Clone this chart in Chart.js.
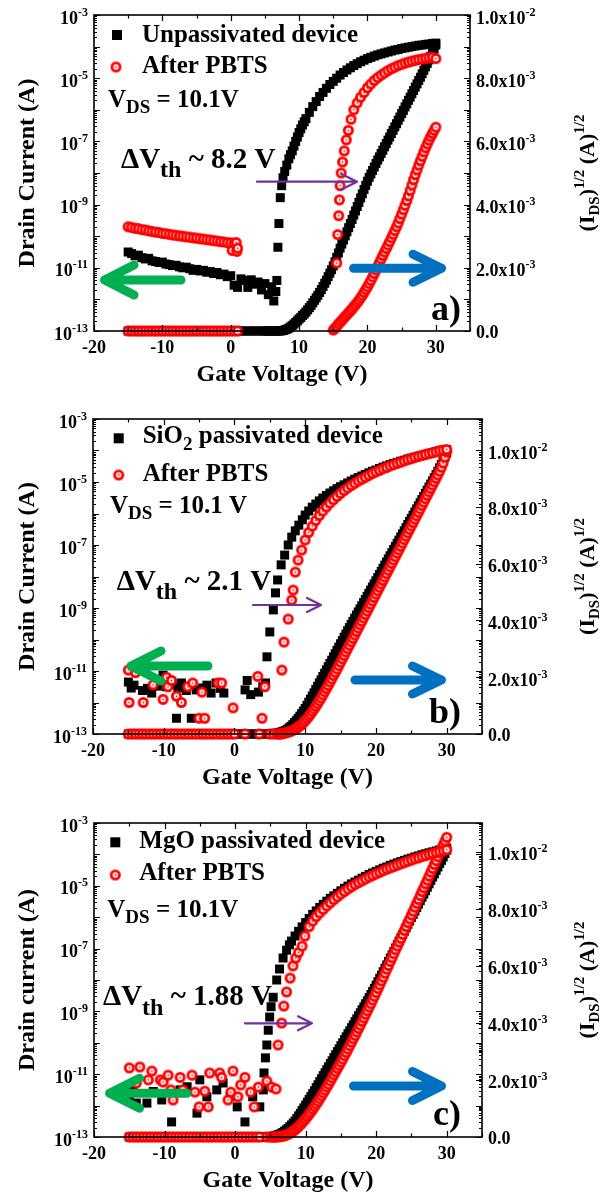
<!DOCTYPE html>
<html><head><meta charset="utf-8">
<script src="https://cdn.jsdelivr.net/npm/chart.js@4.4.1/dist/chart.umd.min.js"></script>
<style>
html,body{margin:0;padding:0;background:#fff;}
#wrap{position:relative;width:612px;height:1196px;overflow:hidden;}
canvas{position:absolute;left:0;}
</style></head><body>
<div id="wrap">
<canvas id="ca" width="612" height="400" style="top:0px"></canvas>
<canvas id="cb" width="612" height="400" style="top:400px"></canvas>
<canvas id="cc" width="612" height="396" style="top:800px"></canvas>
</div>
<script>
// ================= DATA =================
// gate-voltage grid of the sqrt(I_DS) series (V): 0.5 V steps up to 4.5 V, 0.25 V steps from 5 V
const gateV = [
-15,-14.5,-14,-13.5,-13,-12.5,-12,-11.5,-11,-10.5,
-10,-9.5,-9,-8.5,-8,-7.5,-7,-6.5,-6,-5.5,
-5,-4.5,-4,-3.5,-3,-2.5,-2,-1.5,-1,-0.5,
0,0.5,1,1.5,2,2.5,3,3.5,4,4.5,
5,5.25,5.5,5.75, 6,6.25,6.5,6.75, 7,7.25,7.5,7.75, 8,8.25,8.5,8.75, 9,9.25,9.5,9.75,
10,10.25,10.5,10.75, 11,11.25,11.5,11.75, 12,12.25,12.5,12.75, 13,13.25,13.5,13.75, 14,14.25,14.5,14.75,
15,15.25,15.5,15.75, 16,16.25,16.5,16.75, 17,17.25,17.5,17.75, 18,18.25,18.5,18.75, 19,19.25,19.5,19.75,
20,20.25,20.5,20.75, 21,21.25,21.5,21.75, 22,22.25,22.5,22.75, 23,23.25,23.5,23.75, 24,24.25,24.5,24.75,
25,25.25,25.5,25.75, 26,26.25,26.5,26.75, 27,27.25,27.5,27.75, 28,28.25,28.5,28.75, 29,29.25,29.5,29.75,
30];
const xTickValues = [-20,-10,0,10,20,30];
const logTickExponents = [-3,-5,-7,-9,-11,-13];
const sqrtTickValues = [0,2,4,6,8,10];            // in units of 1e-3 A^1/2
const sqrtTickText = ['0.0','2.0x10^-3','4.0x10^-3','6.0x10^-3','8.0x10^-3','1.0x10^-2'];

// ---- panel a : unpassivated ----  (log10 of drain current in A)
const aUnpassV = [
-15,-14.5,-14,-13.5,-13,-12.5,-12,-11.5,-11,-10.5,
-10,-9.5,-9,-8.5,-8,-7.5,-7,-6.5,-6,-5.5,
-5,-4.5,-4,-3.5,-3,-2.5,-2,-1.5,-1,-0.5,
0,0.5,1,1.5,2,2.5,3,3.5,4,4.5,
5,5.5,6,6.3,6.6,6.75,6.9,7.05,7.25,7.45,
7.65,7.9,8.2,8.5,8.75,9,9.25,9.5,9.75,10,
10.25,10.5,10.75,11,11.5,12,12.5,13,13.5,14,
14.5,15,15.5,16,16.5,17,17.5,18,18.5,19,
19.5,20,20.5,21,21.5,22,22.5,23,23.5,24,
24.5,25,25.5,26,26.5,27,27.5,28,28.5,29,
29.5,30];
const aUnpassLogI = [
-10.50,-10.55,-10.62,-10.60,-10.68,-10.72,-10.70,-10.78,-10.80,-10.83,
-10.82,-10.88,-10.90,-10.93,-10.92,-10.97,-11.00,-10.98,-11.03,-11.08,
-11.05,-11.10,-11.08,-11.14,-11.12,-11.18,-11.15,-11.22,-11.20,-11.28,
-11.25,-11.55,-11.62,-11.35,-11.40,-11.62,-11.38,-11.52,-11.45,-11.70,
-11.50,-11.85,-11.60,-12.05,-11.75,-11.40,-10.35,-9.60,-8.78,-8.40,
-8.15,-7.95,-7.75,-7.55,-7.42,-7.30,-7.15,-7.00,-6.86,-6.72,
-6.60,-6.48,-6.38,-6.28,-6.08,-5.90,-5.74,-5.58,-5.45,-5.32,
-5.20,-5.10,-5.00,-4.90,-4.82,-4.74,-4.67,-4.60,-4.54,-4.48,
-4.43,-4.38,-4.34,-4.30,-4.26,-4.23,-4.20,-4.17,-4.14,-4.11,
-4.09,-4.06,-4.04,-4.02,-4.00,-3.98,-3.96,-3.95,-3.93,-3.92,
-3.90,-3.89];
const aPbtsV = [
-15,-14.5,-14,-13.5,-13,-12.5,-12,-11.5,-11,-10.5,
-10,-9.5,-9,-8.5,-8,-7.5,-7,-6.5,-6,-5.5,
-5,-4.5,-4,-3.5,-3,-2.5,-2,-1.5,-1,-0.5,
0,0.2,0.5,0.8,0.9,1,15.5,15.65,15.8,15.9,
16,16.15,16.35,16.6,16.9,17.2,17.6,18,18.5,19,
19.5,20,20.5,21,21.5,22,22.5,23,23.5,24,
24.5,25,25.5,26,26.5,27,27.5,28,28.5,29,
29.5,30];
const aPbtsLogI = [
-9.70,-9.72,-9.75,-9.76,-9.79,-9.80,-9.83,-9.85,-9.87,-9.88,
-9.91,-9.92,-9.94,-9.96,-9.97,-9.99,-10.00,-10.02,-10.03,-10.05,
-10.06,-10.08,-10.09,-10.11,-10.12,-10.14,-10.15,-10.17,-10.18,-10.20,
-10.21,-10.45,-10.22,-10.20,-10.48,-10.38,-10.85,-9.95,-9.35,-8.85,
-8.40,-8.00,-7.65,-7.30,-6.95,-6.65,-6.30,-6.00,-5.78,-5.60,
-5.45,-5.30,-5.18,-5.07,-4.98,-4.90,-4.83,-4.76,-4.70,-4.65,
-4.60,-4.56,-4.52,-4.49,-4.46,-4.43,-4.41,-4.39,-4.37,-4.36,
-4.34,-4.38];
// sqrt(I_DS) in 1e-3 A^1/2 on the gateV grid (null = no point)
const aUnpassSqrt = [
0,0,0,0,0,0,0,0,0,0, 0,0,0,0,0,0,0,0,0,0,
0,0,0,0,0,0,0,0,0,0, 0,0,0,0,0,0,0,0,0,0,
0,0,0,0, 0,0,0,0, 0,0,0.01,0.02, 0.04,0.06,0.09,0.13, 0.17,0.22,0.27,0.32,
0.38,0.43,0.49,0.54, 0.6,0.67,0.74,0.81, 0.89,0.97,1.05,1.13, 1.22,1.31,1.41,1.51, 1.61,1.72,1.83,1.94,
2.06,2.19,2.33,2.47, 2.62,2.75,2.88,3.01, 3.14,3.27,3.4,3.53, 3.67,3.8,3.94,4.07, 4.21,4.34,4.48,4.61,
4.74,4.86,4.97,5.08, 5.19,5.3,5.41,5.51, 5.62,5.72,5.83,5.93, 6.04,6.14,6.25,6.35, 6.46,6.56,6.67,6.77,
6.88,6.98,7.09,7.19, 7.3,7.4,7.51,7.61, 7.72,7.82,7.93,8.03, 8.14,8.25,8.36,8.47, 8.58,8.69,8.8,8.92,
9.05];
const aPbtsSqrt = [
0,0,0,0,0,0,0,0,0,0, 0,0,0,0,0,0,0,0,0,0,
0,0,0,0,0,0,0,0,0,0, 0,0,0,null,null,null,null,null,null,null,
null,null,null,null, null,null,null,null, null,null,null,null, null,null,null,null, null,null,null,null,
null,null,null,null, null,null,null,null, null,null,null,null, null,null,null,null, null,null,null,null,
0.03,0.09,0.15,0.22, 0.28,0.34,0.4,0.46, 0.52,0.58,0.64,0.7, 0.77,0.83,0.9,0.97, 1.05,1.13,1.22,1.31,
1.4,1.5,1.6,1.71, 1.82,1.93,2.05,2.16, 2.28,2.39,2.5,2.61, 2.72,2.83,2.95,3.06, 3.18,3.3,3.42,3.56,
3.7,3.84,3.98,4.13, 4.28,4.45,4.62,4.79, 4.95,5.1,5.25,5.39, 5.53,5.67,5.8,5.92, 6.04,6.15,6.25,6.35,
6.45];

// ---- panel b : SiO2 passivated ----
const bSiO2V = [
-15,-14.6,-14.2,-13,-12.3,-11.7,-10.9,-10.1,-9.6,-8.8,
-8.2,-8,-7.5,-6.8,-6.1,-5.4,-4.5,-3.9,-3.3,-2.6,
-2,-1.5,1.5,1.8,2.3,3.4,4,4.4,4.6,5,
5.5,5.8,6.1,6.6,7.1,7.6,8.1,8.6,9.1,9.6,
10,10.5,11,11.5,12,12.5,13,13.5,14,14.5,
15,15.5,16,16.5,17,17.5,18,18.5,19,19.5,
20,20.5,21,21.5,22,22.5,23,23.5,24,24.5,
25,25.5,26,26.5,27,27.5,28,28.5,29,29.5,
30];
const bSiO2LogI = [
-11.35,-11.54,-11.45,-11.62,-11.55,-11.70,-11.48,-11.13,-11.50,-11.42,
-12.50,-11.54,-11.38,-11.62,-12.50,-11.60,-11.54,-11.45,-11.70,-11.38,
-11.55,-11.70,-11.60,-11.30,-11.75,-11.67,-11.50,-11.38,-10.55,-9.76,
-9.06,-8.52,-8.11,-7.63,-7.32,-7.00,-6.75,-6.55,-6.37,-6.20,
-6.05,-5.92,-5.80,-5.70,-5.60,-5.51,-5.43,-5.35,-5.28,-5.21,
-5.15,-5.09,-5.03,-4.97,-4.91,-4.86,-4.81,-4.76,-4.71,-4.66,
-4.62,-4.57,-4.53,-4.49,-4.45,-4.41,-4.38,-4.34,-4.31,-4.27,
-4.24,-4.21,-4.18,-4.15,-4.12,-4.09,-4.07,-4.04,-4.01,-3.99,
-3.97];
const bPbtsV = [
-15,-14.9,-14,-12.9,-11.5,-10.1,-9.6,-9.4,-8.9,-8.2,
-7.5,-6.6,-5.9,-5,-4.6,-4.2,-2.3,-1.8,-0.2,3.3,
3.9,4.3,6.7,7,7.6,8.1,8.3,8.6,9,9.5,
10,10.5,11,11.5,12,12.5,13,13.5,14,14.5,
15,15.5,16,16.5,17,17.5,18,18.5,19,19.5,
20,20.5,21,21.5,22,22.5,23,23.5,24,24.5,
25,25.5,26,26.5,27,27.5,28,28.5,29,29.5,
30];
const bPbtsLogI = [
-10.97,-12.00,-11.05,-12.00,-11.44,-11.90,-11.20,-11.50,-11.30,-11.80,
-12.00,-11.50,-11.38,-12.50,-11.67,-12.50,-11.38,-11.38,-12.17,-11.17,
-12.50,-11.50,-10.97,-10.08,-9.35,-8.75,-8.43,-7.86,-7.48,-7.16,
-6.84,-6.60,-6.40,-6.22,-6.06,-5.92,-5.79,-5.67,-5.56,-5.46,
-5.36,-5.27,-5.19,-5.11,-5.04,-4.97,-4.91,-4.85,-4.79,-4.73,
-4.68,-4.63,-4.58,-4.54,-4.49,-4.45,-4.41,-4.37,-4.33,-4.29,
-4.26,-4.22,-4.19,-4.16,-4.13,-4.10,-4.07,-4.04,-4.01,-3.99,
-3.97];
const bSiO2Sqrt = [
0,0,0,0,0,0,0,0,0,0, 0,0,0,0,0,0,0,0,0,0,
0,0,0,0,0,0,0,0,0,0, 0,0,0,0,0,0,0,0,0,0,
0,0,0.01,0.02, 0.03,0.04,0.06,0.08, 0.1,0.13,0.17,0.22, 0.27,0.33,0.4,0.47, 0.55,0.63,0.72,0.81,
0.9,1.01,1.12,1.23, 1.34,1.45,1.57,1.68, 1.8,1.91,2.03,2.14, 2.26,2.37,2.49,2.6, 2.72,2.83,2.95,3.06,
3.18,3.29,3.41,3.52, 3.64,3.75,3.86,3.97, 4.08,4.19,4.3,4.41, 4.52,4.63,4.74,4.85, 4.96,5.07,5.18,5.29,
5.4,5.51,5.62,5.73, 5.84,5.95,6.06,6.17, 6.28,6.39,6.5,6.61, 6.72,6.83,6.94,7.05, 7.16,7.27,7.38,7.49,
7.6,7.71,7.82,7.93, 8.04,8.15,8.26,8.37, 8.48,8.59,8.7,8.81, 8.92,9.03,9.14,9.26, 9.38,9.5,9.62,9.76,
9.9];
const bPbtsSqrt = [
0,0,0,0,0,0,0,0,0,0, 0,0,0,0,0,0,0,0,0,0,
0,0,0,0,0,0,0,0,0,0, 0,null,null,0,null,null,null,0,null,null,
0,null,0,null, 0,0,0,0.01, 0.03,0.04,0.06,0.08, 0.1,0.13,0.16,0.2, 0.24,0.29,0.34,0.4,
0.47,0.54,0.62,0.7, 0.79,0.88,0.97,1.07, 1.17,1.27,1.38,1.49, 1.6,1.71,1.83,1.94, 2.06,2.17,2.29,2.41,
2.53,2.65,2.77,2.89, 3.01,3.13,3.25,3.37, 3.49,3.61,3.73,3.85, 3.97,4.09,4.21,4.33, 4.45,4.57,4.69,4.81,
4.93,5.05,5.17,5.29, 5.41,5.53,5.65,5.77, 5.89,6.01,6.13,6.25, 6.37,6.49,6.61,6.73, 6.85,6.97,7.09,7.21,
7.33,7.45,7.57,7.69, 7.81,7.93,8.05,8.17, 8.29,8.41,8.53,8.65, 8.77,8.89,9.01,9.13, 9.26,9.4,9.55,9.75,
9.95];

// ---- panel c : MgO passivated ----
const cMgOV = [
-15,-14.5,-14,-12.5,-11.6,-10.4,-9,-7.8,-6.8,-5.4,
-5,-4,-2.6,-1.7,-0.7,0.3,1.4,2.5,3.5,4,
4.1,4.3,4.5,4.7,4.9,5.1,5.4,5.9,6.3,6.8,
7.3,7.7,8,8.5,9,9.5,10,10.5,11,11.5,
12,12.5,13,13.5,14,14.5,15,15.5,16,16.5,
17,17.5,18,18.5,19,19.5,20,20.5,21,21.5,
22,22.5,23,23.5,24,24.5,25,25.5,26,26.5,
27,27.5,28,28.5,29,29.5,30];
const cMgOLogI = [
-11.82,-11.44,-11.92,-11.92,-11.55,-11.82,-12.52,-11.50,-11.40,-12.24,
-11.18,-11.72,-11.50,-11.28,-11.72,-12.04,-12.52,-11.72,-12.04,-11.50,
-10.96,-10.48,-10.07,-9.60,-9.18,-8.85,-8.55,-8.00,-7.65,-7.30,
-7.05,-6.88,-6.76,-6.60,-6.45,-6.31,-6.17,-6.04,-5.91,-5.80,
-5.69,-5.59,-5.49,-5.40,-5.32,-5.24,-5.16,-5.08,-5.01,-4.94,
-4.88,-4.82,-4.76,-4.70,-4.64,-4.59,-4.54,-4.49,-4.44,-4.40,
-4.35,-4.31,-4.27,-4.23,-4.19,-4.15,-4.12,-4.08,-4.05,-4.01,
-3.98,-3.95,-3.92,-3.89,-3.86,-3.83,-3.80];
const cPbtsV = [
-15,-14,-13.5,-12.3,-11.8,-10.6,-10.2,-9.5,-9.1,-8.8,
-7.8,-7.4,-6.1,-5.7,-5.1,-4.3,-3.8,-3.6,-2.2,-1.9,
-1,-0.6,-0.3,0.4,0.8,1.4,2.2,2.7,3.3,4.5,
5.2,5.8,6.1,6.6,6.9,7.3,7.8,8.2,8.6,9,
9.5,9.9,10.5,11,11.5,12,12.5,13,13.5,14,
14.5,15,15.5,16,16.5,17,17.5,18,18.5,19,
19.5,20,20.5,21,21.5,22,22.5,23,23.5,24,
24.5,25,25.5,26,26.5,27,27.5,28,28.5,29,
29.5,30];
const cPbtsLogI = [
-10.80,-11.28,-10.77,-11.18,-10.90,-11.18,-11.25,-11.03,-11.50,-11.82,
-11.10,-11.50,-11.03,-11.57,-12.04,-11.54,-12.04,-10.96,-10.96,-11.10,
-11.82,-11.57,-10.90,-11.72,-11.34,-11.10,-11.57,-12.04,-11.41,-11.22,
-11.41,-11.47,-10.07,-9.37,-8.83,-8.38,-7.94,-7.55,-7.30,-7.12,
-6.92,-6.60,-6.30,-6.12,-5.98,-5.86,-5.75,-5.64,-5.54,-5.44,
-5.35,-5.26,-5.18,-5.10,-5.03,-4.96,-4.90,-4.84,-4.78,-4.72,
-4.67,-4.62,-4.57,-4.52,-4.47,-4.43,-4.39,-4.34,-4.30,-4.26,
-4.22,-4.18,-4.14,-4.11,-4.07,-4.04,-4.00,-3.97,-3.94,-3.91,
-3.88,-3.85];
const cMgOSqrt = [
0,0,0,0,0,0,0,0,0,0, 0,0,0,0,0,0,0,0,0,0,
0,0,0,0,0,0,0,0,0,0, 0,0,0,0,0,0,0,0,0,0,
0.01,0.02,0.03,0.05, 0.07,0.09,0.12,0.16, 0.2,0.25,0.3,0.36, 0.42,0.49,0.56,0.65, 0.74,0.83,0.93,1.02,
1.12,1.22,1.32,1.42, 1.52,1.62,1.73,1.83, 1.94,2.04,2.15,2.25, 2.36,2.46,2.57,2.67, 2.78,2.88,2.99,3.09,
3.2,3.3,3.41,3.51, 3.62,3.72,3.83,3.93, 4.04,4.14,4.25,4.35, 4.46,4.56,4.67,4.77, 4.88,4.99,5.1,5.21,
5.32,5.44,5.56,5.67, 5.79,5.91,6.03,6.15, 6.27,6.38,6.5,6.62, 6.74,6.86,6.98,7.09, 7.21,7.33,7.45,7.57,
7.69,7.8,7.92,8.04, 8.16,8.28,8.4,8.51, 8.63,8.75,8.87,8.99, 9.11,9.22,9.34,9.46, 9.58,9.69,9.81,9.93,
10.05];
const cPbtsSqrt = [
0,0,0,0,0,0,0,0,0,0, 0,0,0,0,0,0,0,0,0,0,
0,0,0,0,0,0,0,0,0,0, 0,0,0,0,0,0,0,0,null,0,
0,0,0,0, 0.01,0.01,0.02,0.03, 0.05,0.07,0.1,0.13, 0.17,0.21,0.26,0.31, 0.37,0.43,0.5,0.57,
0.64,0.72,0.8,0.88, 0.97,1.06,1.15,1.24, 1.34,1.44,1.54,1.64, 1.75,1.85,1.96,2.07, 2.18,2.29,2.4,2.51,
2.62,2.73,2.85,2.96, 3.08,3.2,3.32,3.44, 3.56,3.68,3.8,3.92, 4.05,4.17,4.3,4.42, 4.55,4.67,4.8,4.93,
5.06,5.2,5.33,5.47, 5.6,5.74,5.88,6.01, 6.15,6.28,6.42,6.56, 6.69,6.83,6.96,7.1, 7.24,7.37,7.51,7.64,
7.78,7.91,8.05,8.19, 8.32,8.46,8.6,8.73, 8.87,9.0,9.14,9.28, 9.41,9.55,9.68,9.82, 9.96,10.1,10.23,10.37,
10.5];

// ================= RENDERING =================
const FAM = '"Liberation Serif","Times New Roman",serif';
const GREEN = '#00b050', BLUE = '#0070c0', PURPLE = '#7030a0';
function fnt(s){ return 'bold ' + s + 'px ' + FAM; }

function ringImage(){
  const c = document.createElement('canvas'); c.width = 13; c.height = 13;
  const g = c.getContext('2d');
  g.fillStyle = '#ff0000'; g.beginPath(); g.arc(6.5,6.5,5.5,0,2*Math.PI); g.fill();
  g.fillStyle = '#ffffff'; g.beginPath(); g.arc(6.5,6.5,2.7,0,2*Math.PI); g.fill();
  g.fillStyle = '#ff0000'; g.beginPath(); g.arc(6.5,6.5,0.9,0,2*Math.PI); g.fill();
  return c;
}
const RING = ringImage();

function rich(ctx, x, y, segs, align){
  let w = 0;
  for (const s of segs){ ctx.font = fnt(s[1]); w += ctx.measureText(s[0]).width; }
  let cx = align === 'right' ? x - w : (align === 'center' ? x - w/2 : x);
  ctx.textAlign = 'left'; ctx.textBaseline = 'alphabetic';
  for (const s of segs){ ctx.font = fnt(s[1]); ctx.fillText(s[0], cx, y + (s[2]||0)); cx += ctx.measureText(s[0]).width; }
}
function arrow(ctx, x1, y1, x2, y2, color, lw, hl, hw){
  ctx.save(); ctx.strokeStyle = color; ctx.lineWidth = lw; ctx.lineCap = 'round'; ctx.lineJoin = 'round';
  const d = Math.sign(x2 - x1);
  ctx.beginPath(); ctx.moveTo(x1,y1); ctx.lineTo(x2,y2);
  ctx.moveTo(x2 - d*hl, y2 - hw); ctx.lineTo(x2, y2); ctx.lineTo(x2 - d*hl, y2 + hw);
  ctx.stroke(); ctx.restore();
}

function makeDeco(P){
  return { id: 'deco_' + P.id, afterDraw(chart){
    const ctx = chart.ctx, a = chart.chartArea;
    const sx = chart.scales.x, sl = chart.scales.yL, sr = chart.scales.yR;
    ctx.save();
    ctx.strokeStyle = '#000'; ctx.fillStyle = '#000';
    ctx.lineWidth = 1.2; ctx.beginPath();
    for (let v = -20; v <= 35; v += 5){
      const px = Math.round(sx.getPixelForValue(v)) + 0.5; const L = (v % 10 === 0) ? 6 : 3.5;
      ctx.moveTo(px, a.bottom); ctx.lineTo(px, a.bottom - L);
      ctx.moveTo(px, a.top); ctx.lineTo(px, a.top + L);
    }
    for (let d = -13; d <= -3; d++){
      for (let k = 1; k <= 9; k++){
        if (d === -3 && k > 1) break;
        const py = Math.round(sl.getPixelForValue(k * Math.pow(10, d))) + 0.5; const L = k === 1 ? 6 : 3;
        ctx.moveTo(a.left, py); ctx.lineTo(a.left + L, py);
        ctx.moveTo(a.right, py); ctx.lineTo(a.right - L, py);
      }
    }
    for (let v = 0; v <= P.rMax + 1e-9; v += 1){
      const py = Math.round(sr.getPixelForValue(v)) + 0.5; const L = (v % 2 === 0) ? 6 : 3;
      ctx.moveTo(a.right, py); ctx.lineTo(a.right - L, py);
    }
    ctx.stroke();
    ctx.lineWidth = 1.6; ctx.strokeRect(a.left, a.top, a.right - a.left, a.bottom - a.top);
    for (const e of logTickExponents){
      const py = sl.getPixelForValue(Math.pow(10, e));
      rich(ctx, a.left - 6, py + 8.5, [['10',18,0],['-' + Math.abs(e),12,-8]], 'right');
    }
    sqrtTickValues.forEach((v, i) => {
      const t = sqrtTickText[i], py = sr.getPixelForValue(v);
      if (t.indexOf('^') >= 0){ const p = t.split('^'); rich(ctx, a.right + 6, py + 8.5, [[p[0],18,0],[p[1],12,-8]], 'left'); }
      else rich(ctx, a.right + 6, py + 6.5, [[t,18,0]], 'left');
    });
    for (const v of xTickValues){ rich(ctx, sx.getPixelForValue(v), a.bottom + 22, [[String(v),18,0]], 'center'); }
    const cy = (a.top + a.bottom) / 2;
    rich(ctx, (a.left + a.right) / 2, a.bottom + 50, [['Gate Voltage (V)',24,0]], 'center');
    ctx.save(); ctx.translate(34, cy); ctx.rotate(-Math.PI/2); rich(ctx, 0, 0, [[P.leftTitle,24,0]], 'center'); ctx.restore();
    ctx.save(); ctx.translate(594, cy); ctx.rotate(-Math.PI/2);
    rich(ctx, 0, 0, [['(I',22,0],['DS',15,5],[')',22,0],['1/2',15,-10],[' (A)',22,0],['1/2',15,-10]], 'center'); ctx.restore();
    for (const L of P.legend){
      if (L.sym === 'sq'){ ctx.fillStyle = '#000'; ctx.fillRect(L.x - 5, L.y - 5, 10, 10); }
      else ctx.drawImage(RING, L.x - 6.5, L.y - 6.5);
      ctx.fillStyle = '#000'; rich(ctx, L.tx, L.ty, L.segs, 'left');
    }
    for (const T of P.texts) rich(ctx, T.x, T.y, T.segs, 'left');
    for (const A of P.arrows){
      const y = sl.getPixelForValue(Math.pow(10, A.logY));
      arrow(ctx, sx.getPixelForValue(A.x1), y, sx.getPixelForValue(A.x2), y, A.color, A.lw, A.hl, A.hw);
    }
    ctx.restore();
  }};
}

function logPts(vs, logs){ return vs.map((v,i) => ({x: v, y: Math.pow(10, logs[i])})); }
function sqrtPts(vs, vals){ const o = []; vs.forEach((v,i) => { if (vals[i] !== null && vals[i] !== undefined) o.push({x: v, y: vals[i]}); }); return o; }

const panels = [
 { id:'a', canvas:'ca', pad:{left:94,right:142,top:15,bottom:69}, rMax:10,
   blkV:aUnpassV, blkLog:aUnpassLogI, redV:aPbtsV, redLog:aPbtsLogI, blkSqrt:aUnpassSqrt, redSqrt:aPbtsSqrt,
   leftTitle:'Drain Current (A)',
   legend:[{sym:'sq',x:117,y:35,tx:142,ty:42,segs:[['Unpassivated device',25,0]]},
           {sym:'ring',x:116,y:67,tx:142,ty:73,segs:[['After PBTS',25,0]]}],
   texts:[{x:108,y:107,segs:[['V',25,0],['DS',19,6],[' = 10.1V',25,0]]},
          {x:121,y:168,segs:[['\u0394V',29,0],['th',24,9],[' ~ 8.2 V',29,0]]},
          {x:431,y:320,segs:[['a)',36,0]]}],
   arrows:[{x1:-7.27,x2:-18.46,logY:-11.386,color:GREEN,lw:9,hl:29.5,hw:15},
           {x1:17.96,x2:30.84,logY:-11.016,color:BLUE,lw:9,hl:28.5,hw:14},
           {x1:3.84,x2:18.47,logY:-8.275,color:PURPLE,lw:2.2,hl:16,hw:8}] },
 { id:'b', canvas:'cb', pad:{left:93,right:130,top:19,bottom:66}, rMax:11.1,
   blkV:bSiO2V, blkLog:bSiO2LogI, redV:bPbtsV, redLog:bPbtsLogI, blkSqrt:bSiO2Sqrt, redSqrt:bPbtsSqrt,
   leftTitle:'Drain Current (A)',
   legend:[{sym:'sq',x:118.7,y:38.3,tx:142.7,ty:43.3,segs:[['SiO',25,0],['2',19,7],[' passivated device',25,0]]},
           {sym:'ring',x:118.7,y:75,tx:142.7,ty:81,segs:[['After PBTS',25,0]]}],
   texts:[{x:110,y:113.3,segs:[['V',25,0],['DS',19,6],[' = 10.1 V',25,0]]},
          {x:116.7,y:190,segs:[['\u0394V',29,0],['th',24,9],[' ~ 2.1 V',29,0]]},
          {x:429,y:323,segs:[['b)',36,0]]}],
   arrows:[{x1:-3.74,x2:-14.63,logY:-10.84,color:GREEN,lw:9,hl:30,hw:15},
           {x1:17.04,x2:29.27,logY:-11.286,color:BLUE,lw:9,hl:29,hw:14},
           {x1:2.62,x2:12.24,logY:-8.905,color:PURPLE,lw:2.2,hl:14,hw:7}] },
 { id:'c', canvas:'cc', pad:{left:94,right:130,top:23,bottom:59}, rMax:11.0,
   blkV:cMgOV, blkLog:cMgOLogI, redV:cPbtsV, redLog:cPbtsLogI, blkSqrt:cMgOSqrt, redSqrt:cPbtsSqrt,
   leftTitle:'Drain current (A)',
   legend:[{sym:'sq',x:115.3,y:42.3,tx:139.3,ty:48.3,segs:[['MgO passivated device',25,0]]},
           {sym:'ring',x:115.3,y:75,tx:139.3,ty:80,segs:[['After PBTS',25,0]]}],
   texts:[{x:107.3,y:116.7,segs:[['V',25,0],['DS',19,6],[' = 10.1V',25,0]]},
          {x:103,y:205,segs:[['\u0394V',29,0],['th',24,10],[' ~ 1.88 V',29,0]]},
          {x:433,y:325,segs:[['c)',36,0]]}],
   arrows:[{x1:-6.82,x2:-17.80,logY:-11.608,color:GREEN,lw:9,hl:30,hw:15},
           {x1:16.78,x2:29.26,logY:-11.376,color:BLUE,lw:9,hl:29,hw:14.5},
           {x1:1.40,x2:10.90,logY:-9.379,color:PURPLE,lw:2.2,hl:14,hw:7}] }
];

for (const P of panels){
  const sq = {pointStyle:'rect', pointRadius:6.36, pointBackgroundColor:'#000', pointBorderWidth:0, clip:false, order:1};
  const rg = {pointStyle:RING, pointRadius:6, pointBorderWidth:0, clip:false, order:0};
  new Chart(document.getElementById(P.canvas), {
    type: 'scatter',
    data: { datasets: [
      Object.assign({label:'blkLog', data: logPts(P.blkV, P.blkLog), yAxisID:'yL'}, sq),
      Object.assign({label:'blkSqrt', data: sqrtPts(gateV, P.blkSqrt), yAxisID:'yR'}, sq),
      Object.assign({label:'redLog', data: logPts(P.redV, P.redLog), yAxisID:'yL'}, rg),
      Object.assign({label:'redSqrt', data: sqrtPts(gateV, P.redSqrt), yAxisID:'yR'}, rg)
    ]},
    options: {
      responsive:false, animation:false, devicePixelRatio:1, events:[],
      layout:{padding:P.pad},
      plugins:{legend:{display:false}, tooltip:{enabled:false}},
      scales:{
        x:{type:'linear', min:-20, max:35, display:false},
        yL:{type:'logarithmic', position:'left', min:1e-13, max:1e-3, display:false},
        yR:{type:'linear', position:'right', min:0, max:P.rMax, display:false}
      }
    },
    plugins:[makeDeco(P)]
  });
}
</script>
</body></html>
